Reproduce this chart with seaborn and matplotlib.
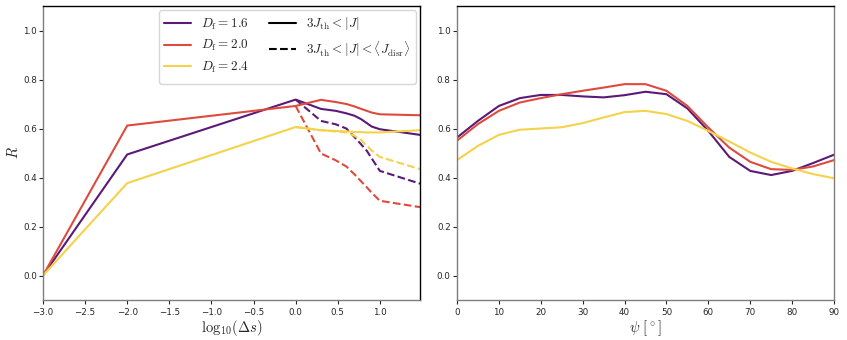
import numpy as np
import pandas as pd
import seaborn as sns
import matplotlib
matplotlib.use("Agg")
import matplotlib.pyplot as plt
from matplotlib.lines import Line2D

sns.set_style("white")
plt.rcParams["mathtext.fontset"] = "cm"
plt.rcParams["font.family"] = ["DejaVu Sans"]

# ---- data ----
fractal_dims = ["1.6", "2.0", "2.4"]
colors = ["#5b1a78", "#dd4b3e", "#f4d24a"]

delta_s = [0.001, 0.01, 1, 2, 3, 4, 5, 6, 7, 8, 10, 30]
solid_16 = [0.0, 0.494, 0.718, 0.680, 0.672, 0.662, 0.652, 0.638, 0.622, 0.608, 0.597, 0.574]
solid_20 = [0.0, 0.612, 0.692, 0.717, 0.708, 0.700, 0.690, 0.680, 0.672, 0.665, 0.658, 0.654]
solid_24 = [0.0, 0.377, 0.606, 0.593, 0.590, 0.588, 0.586, 0.585, 0.584, 0.584, 0.584, 0.593]

delta_s_dash = [1, 2, 3, 4, 5, 6, 7, 8, 10, 30]
dash_16 = [0.718, 0.631, 0.617, 0.600, 0.565, 0.535, 0.509, 0.478, 0.427, 0.375]
dash_20 = [0.692, 0.498, 0.470, 0.445, 0.413, 0.384, 0.360, 0.338, 0.305, 0.279]
dash_24 = [0.606, 0.593, 0.588, 0.584, 0.570, 0.553, 0.530, 0.510, 0.484, 0.434]

psi = [0, 5, 10, 15, 20, 25, 30, 35, 40, 45, 50, 55, 60, 65, 70, 75, 80, 85, 90]
psi_16 = [0.563, 0.631, 0.692, 0.724, 0.737, 0.737, 0.731, 0.727, 0.736, 0.750, 0.740, 0.682,
          0.590, 0.484, 0.427, 0.410, 0.427, 0.459, 0.493]
psi_20 = [0.550, 0.618, 0.672, 0.706, 0.724, 0.740, 0.754, 0.767, 0.781, 0.781, 0.754, 0.692,
          0.604, 0.522, 0.464, 0.434, 0.431, 0.445, 0.471]
psi_24 = [0.471, 0.529, 0.574, 0.595, 0.600, 0.605, 0.622, 0.645, 0.667, 0.672, 0.659, 0.631,
          0.590, 0.547, 0.502, 0.464, 0.437, 0.414, 0.397]

# ---- tables ----
def long(xs, series, xname):
    frames = []
    for d, ys in zip(fractal_dims, series):
        frames.append(pd.DataFrame({xname: xs, "R": ys, "Df": d}))
    return pd.concat(frames, ignore_index=True)

df_solid = long(np.log10(delta_s), [solid_16, solid_20, solid_24], "x")
df_dash = long(np.log10(delta_s_dash), [dash_16, dash_20, dash_24], "x")
df_psi = long(psi, [psi_16, psi_20, psi_24], "psi")
pal = dict(zip(fractal_dims, colors))

fig, axes = plt.subplots(1, 2, figsize=(8.47, 3.4), dpi=100)
fig.subplots_adjust(left=43/847, right=834/847, bottom=1-300/340, top=1-6/340, wspace=0.098)
ax1, ax2 = axes

sns.lineplot(data=df_dash, x="x", y="R", hue="Df", palette=pal, ax=ax1, lw=1.5,
             linestyle="--", legend=False, sort=False)
sns.lineplot(data=df_solid, x="x", y="R", hue="Df", palette=pal, ax=ax1, lw=1.5,
             legend=False, sort=False)
sns.lineplot(data=df_psi, x="psi", y="R", hue="Df", palette=pal, ax=ax2, lw=1.5,
             legend=False, sort=False)

ax1.set_xlim(-3, np.log10(30))
ax1.set_xticks(np.arange(-3, 1.01, 0.5))
ax2.set_xlim(0, 90)
ax2.set_xticks(np.arange(0, 91, 10))
for ax in axes:
    ax.set_ylim(-0.1, 1.1)
    ax.set_yticks(np.arange(0, 1.01, 0.2))
    ax.tick_params(labelsize=6.3, length=3, width=0.8, direction="out", left=True, bottom=True)
    ax.tick_params(axis="y", pad=1.5)
    ax.tick_params(axis="x", pad=2.5)
    for s in ["left", "bottom"]:
        ax.spines[s].set_color("#7f7f7f")
    for s in ["top", "right"]:
        ax.spines[s].set_color("black")
    for s in ax.spines.values():
        s.set_linewidth(1.0)
ax2.spines["right"].set_color("#7f7f7f")

ax1.set_xlabel(r"$\mathrm{log}_{10}(\Delta s)$", fontsize=10.5, labelpad=1)
ax1.set_ylabel(r"$R$", fontsize=10.5, labelpad=1)
ax2.set_xlabel(r"$\psi\ [^\circ]$", fontsize=10.5, labelpad=1)
ax2.set_ylabel("")

handles = [Line2D([], [], color=c, lw=1.5) for c in colors]
labels = [r"$D_\mathrm{f} = %s$" % d for d in fractal_dims]
handles += [Line2D([], [], color="black", lw=1.5),
            Line2D([], [], color="black", lw=1.5, ls="--"),
            Line2D([], [], color="none")]
labels += [r"$3J_\mathrm{th} < |J|$",
           r"$3J_\mathrm{th} < |J| < \langle J_\mathrm{disr}\rangle$", ""]
ax1.legend(handles, labels, ncol=2, loc="upper right", fontsize=9.5,
           bbox_to_anchor=(0.995, 0.995), frameon=True, handlelength=2.0,
           columnspacing=1.5, borderaxespad=0.2)

fig.savefig("out.png", dpi=100)
